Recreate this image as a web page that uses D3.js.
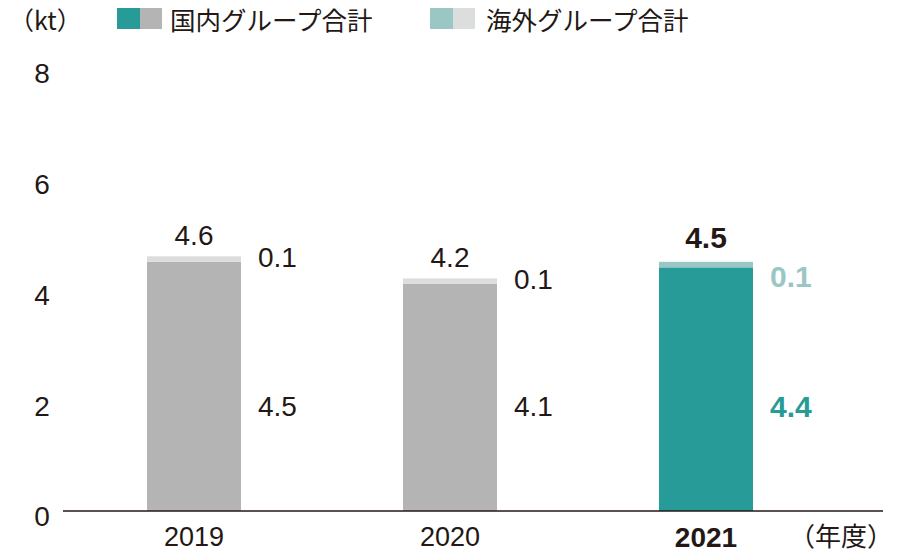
<!DOCTYPE html>
<meta charset="utf-8">
<style>
body { margin: 0; background: #fff; }
text { font-family: "Liberation Sans", Arial, sans-serif; fill: #231815; }
.jp { font-family: "Noto Sans CJK JP", sans-serif; }
</style>
<svg id="svg" width="920" height="555"></svg>
<script src="https://d3js.org/d3.v7.min.js"></script>
<script>
var years = ["2019", "2020", "2021"];
var domestic = [4.5, 4.1, 4.4];
var overseas = [0.1, 0.1, 0.1];
var totals = [4.6, 4.2, 4.5];
var yTicks = [0, 2, 4, 6, 8];
var legendLabels = ["国内グループ合計", "海外グループ合計"];

var svg = d3.select("svg");
var baseY = 511, barW = 94;

var x = d3.scalePoint().domain(years).range([194, 706]);
var y = d3.scaleLinear().domain([0, 8]).range([baseY, 68]);

var hl = "2021"; // highlighted year
var cDom = "#279b97", cDomLt = "#9ac6c4", cGray = "#b4b4b4", cGrayLt = "#dcdddd";

// y tick labels (no axis line, just numbers)
svg.append("g").selectAll("text")
  .data(yTicks).enter().append("text")
  .attr("x", 42)
  .attr("y", function(d) { return y(d) + 5.5; })
  .attr("dy", "0.35em")
  .attr("text-anchor", "middle")
  .attr("font-size", 28)
  .text(function(d) { return d; });

var bars = svg.append("g");
years.forEach(function(yr, i) {
  var on = yr === hl;
  bars.append("rect")
    .attr("x", x(yr) - barW / 2)
    .attr("y", y(domestic[i]))
    .attr("width", barW)
    .attr("height", baseY - y(domestic[i]))
    .attr("fill", on ? cDom : cGray);
  bars.append("rect")
    .attr("x", x(yr) - barW / 2)
    .attr("y", y(domestic[i] + overseas[i]))
    .attr("width", barW)
    .attr("height", y(domestic[i]) - y(domestic[i] + overseas[i]))
    .attr("fill", on ? cDomLt : cGrayLt);

  // total label
  svg.append("text")
    .attr("x", x(yr))
    .attr("y", y(totals[i]) - (on ? 14 : 11))
    .attr("text-anchor", "middle")
    .attr("font-size", on ? 30 : 28)
    .attr("font-weight", on ? "bold" : "normal")
    .text(totals[i].toFixed(1));

  // overseas label
  svg.append("text")
    .attr("x", x(yr) + barW / 2 + 17)
    .attr("y", y(totals[i]) + (on ? 15 : 1))
    .attr("dy", "0.35em")
    .attr("font-size", on ? 30 : 28)
    .attr("font-weight", on ? "bold" : "normal")
    .style("fill", on ? cDomLt : "#231815")
    .text(overseas[i].toFixed(1));

  // domestic label
  svg.append("text")
    .attr("x", x(yr) + barW / 2 + 17)
    .attr("y", 406)
    .attr("dy", "0.35em")
    .attr("font-size", on ? 30 : 28)
    .attr("font-weight", on ? "bold" : "normal")
    .style("fill", on ? cDom : "#231815")
    .text(domestic[i].toFixed(1));
});

// baseline
svg.append("line")
  .attr("x1", 63).attr("x2", 883)
  .attr("y1", baseY).attr("y2", baseY)
  .attr("stroke", "#231815").attr("stroke-width", 1.5);

// x labels
svg.append("g").selectAll("text")
  .data(years).enter().append("text")
  .attr("x", function(d) { return x(d); })
  .attr("y", 537)
  .attr("dy", "0.35em")
  .attr("text-anchor", "middle")
  .attr("font-size", function(d) { return d === hl ? 28 : 27; })
  .attr("font-weight", function(d) { return d === hl ? "bold" : "normal"; })
  .text(function(d) { return d; });

svg.append("text").attr("class", "jp")
  .attr("x", 893).attr("y", 537).attr("dy", "0.35em")
  .attr("text-anchor", "end")
  .attr("font-size", 26)
  .text("（年度）");

// unit + legend
svg.append("text").attr("class", "jp")
  .attr("x", 9).attr("y", 21).attr("dy", "0.35em")
  .attr("font-size", 25)
  .text("（kt）");

var legendX = [117, 430];
var legendCols = [[cDom, cGray], [cDomLt, cGrayLt]];
legendLabels.forEach(function(lab, i) {
  var g = svg.append("g").attr("transform", "translate(" + legendX[i] + ",8)");
  g.append("rect").attr("width", 23).attr("height", 21).attr("fill", legendCols[i][0]);
  g.append("rect").attr("x", 23).attr("width", 22).attr("height", 21).attr("fill", legendCols[i][1]);
  g.append("text").attr("class", "jp")
    .attr("x", 53 + i * 3).attr("y", 13).attr("dy", "0.35em")
    .attr("font-size", 25.5)
    .text(lab);
});
</script>
